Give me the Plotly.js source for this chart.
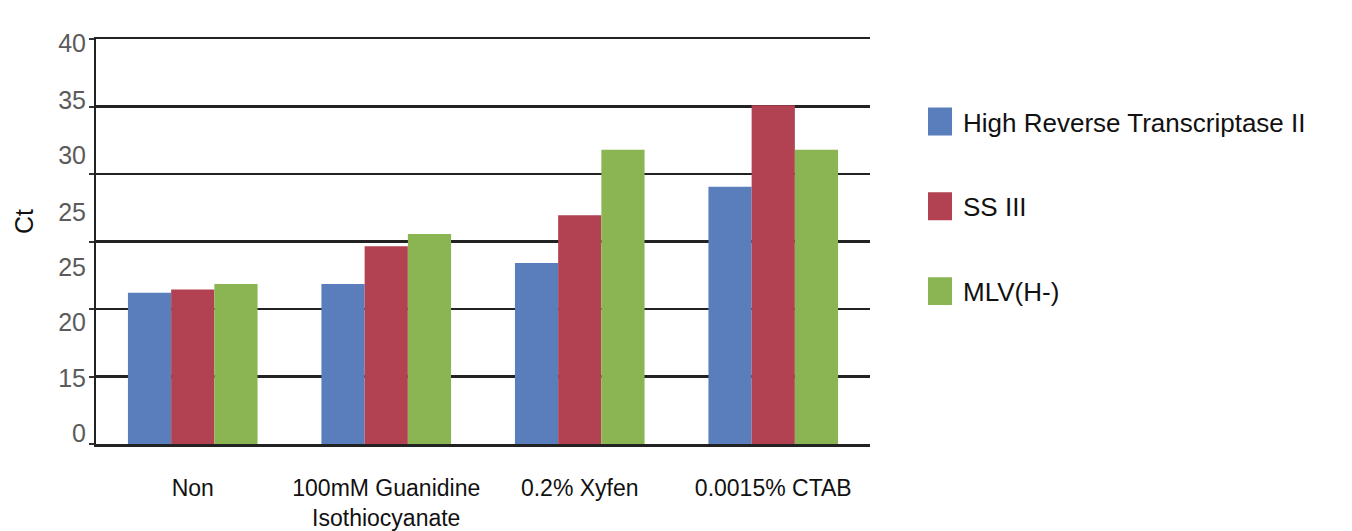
<!DOCTYPE html>
<html>
<head>
<meta charset="utf-8">
<script src="https://cdn.plot.ly/plotly-3.0.1.min.js"></script>
<style>html,body{margin:0;padding:0;background:#fff;}#chart{width:1352px;height:531px;}</style>
</head>
<body>
<div id="chart"></div>
<script>
// Categories (x axis)
var categories = ["Non", "100mM Guanidine<br>Isothiocyanate", "0.2% Xyfen", "0.0015% CTAB"];

// Series values (Ct)
var seriesNames = ["High Reverse Transcriptase II", "SS III", "MLV(H-)"];
var highRT2 = [21.2, 21.85, 23.4, 29.05];
var ss3     = [21.45, 24.65, 26.95, 35.1];
var mlvH    = [21.85, 25.55, 31.8, 31.8];

// Y tick labels as printed in the source figure
var yTickText = ["0", "15", "20", "25", "25", "30", "35", "40"];
var yTickVals = [10.8, 14.9, 19.05, 23.1, 27.2, 31.4, 35.5, 39.7];
var yGridVals = [10, 15, 20, 25, 30, 35, 40];

var colors = ["#5a7dbb", "#b24152", "#8bb553"];
var seriesValues = [highRT2, ss3, mlvH];

var traces = seriesValues.map(function (vals, i) {
  return {
    type: "bar",
    name: seriesNames[i],
    x: categories,
    y: vals,
    legendgroup: "g" + i,
    marker: { color: colors[i], line: { width: 0 } },
    hoverinfo: "x+y+name"
  };
});
// invisible helper trace to carry the second (label) y-axis
traces.push({
  type: "scatter", x: [categories[0]], y: [null], yaxis: "y2",
  showlegend: false, hoverinfo: "skip", mode: "markers"
});

var font = "Liberation Sans, Arial, sans-serif";

var layout = {
  width: 1352,
  height: 531,
  margin: { l: 96, r: 482, t: 39, b: 87, pad: 0 },
  paper_bgcolor: "#ffffff",
  plot_bgcolor: "#ffffff",
  font: { family: font, color: "#111111" },
  barmode: "group",
  bargap: 0.33,
  bargroupgap: 0,
  showlegend: true,
  legend: {
    x: 1.0685, xanchor: "left",
    y: 0.854, yanchor: "top",
    traceorder: "grouped",
    tracegroupgap: 48,
    font: { family: font, size: 26, color: "#111111" },
    bgcolor: "rgba(0,0,0,0)",
    borderwidth: 0,
    itemwidth: 30
  },
  xaxis: {
    type: "category",
    showgrid: false,
    showline: true,
    mirror: true,
    linecolor: "#222222",
    linewidth: 2.5,
    ticks: "",
    ticklabelstandoff: 22,
    tickfont: { family: font, size: 23, color: "#111111" },
    zeroline: false,
    fixedrange: true
  },
  yaxis: {
    range: [10, 40],
    tickmode: "array",
    tickvals: yGridVals,
    showticklabels: false,
    showgrid: true,
    gridcolor: "#222222",
    gridwidth: 2.5,
    showline: true,
    linecolor: "#222222",
    linewidth: 2.5,
    ticks: "outside",
    ticklen: 5,
    tickwidth: 2,
    tickcolor: "#333333",
    zeroline: false,
    fixedrange: true
  },
  yaxis2: {
    overlaying: "y",
    side: "left",
    range: [10, 40],
    tickmode: "array",
    tickvals: yTickVals,
    ticktext: yTickText,
    showgrid: false,
    showline: false,
    ticks: "",
    zeroline: false,
    ticklabelstandoff: 9,
    tickfont: { family: font, size: 25, color: "#5b5b5b" },
    fixedrange: true
  },
  annotations: [{
    text: "Ct",
    xref: "paper", yref: "paper",
    x: -0.093, y: 0.548,
    xanchor: "center", yanchor: "middle",
    textangle: -90,
    showarrow: false,
    font: { family: font, size: 25, color: "#111111" }
  }]
};

Plotly.newPlot("chart", traces, layout, { displayModeBar: false, staticPlot: true }).then(function () {
  // enlarge the legend swatches to match the source's large colour blocks
  document.querySelectorAll("#chart .legendpoints path").forEach(function (p) {
    var t = p.getAttribute("transform") || "";
    p.setAttribute("transform", "translate(-3,0) " + t + " scale(2,2.33)");
  });
});
</script>
</body>
</html>
